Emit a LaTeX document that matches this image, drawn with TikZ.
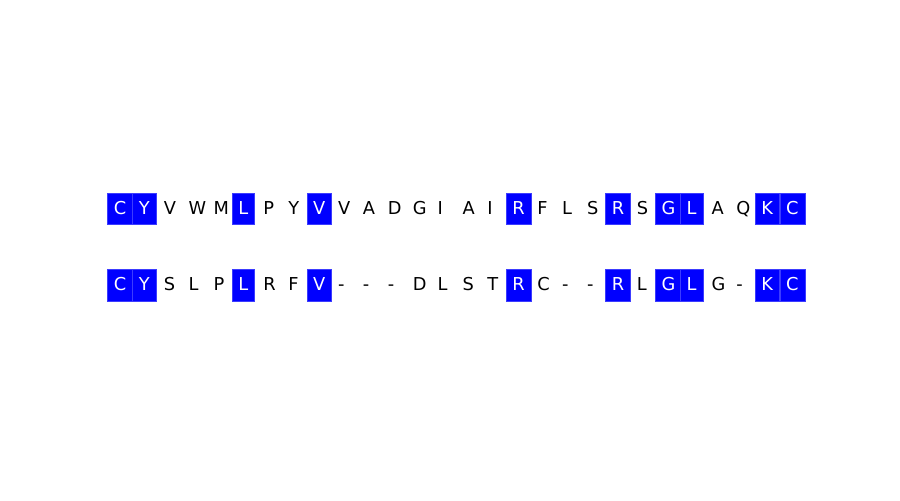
\documentclass[tikz,border=0pt]{standalone}
\usepackage{fontspec}
\setmainfont{DejaVu Sans}
\usepackage{tikz}
\definecolor{matchblue}{HTML}{0000FF}
\definecolor{matchedge}{HTML}{3C3CFF}
\definecolor{ink}{HTML}{000000}
\tikzset{
  residue/.style={
    anchor=base west,
    inner xsep=4.6pt,
    inner ysep=0pt,
    text height=15.1pt,
    text depth=7.6pt,
    text=ink,
    font=\fontsize{12.8pt}{15pt}\selectfont
  },
  hl/.is choice,
  hl/0/.style={},
  hl/1/.style={
    fill=matchblue,
    draw=matchedge,
    line width=0.3pt,
    text=white
  }
}

\begin{document}
\begin{tikzpicture}[x=0.72pt, y=-0.72pt]
  \useasboundingbox (0,0) rectangle (900,500);
  % upper sequence
  \foreach \res/\m [count=\i from 0] in {C/1,Y/1,V/0,W/0,M/0,L/1,P/0,Y/0,V/1,V/0,
      A/0,D/0,G/0,I/0,A/0,I/0,R/1,F/0,L/0,S/0,R/1,S/0,G/1,L/1,A/0,Q/0,K/1,C/1}
    \node[residue, hl=\m] (top-\i) at ({107.3+24.9*\i}, 214) {\res};
  % lower sequence
  \foreach \res/\m [count=\i from 0] in {C/1,Y/1,S/0,L/0,P/0,L/1,R/0,F/0,V/1,-/0,
      -/0,-/0,D/0,L/0,S/0,T/0,R/1,C/0,-/0,-/0,R/1,L/0,G/1,L/1,G/0,-/0,K/1,C/1}
    \node[residue, hl=\m] (bot-\i) at ({107.3+24.9*\i}, 290.6) {\res};
\end{tikzpicture}
\end{document}
